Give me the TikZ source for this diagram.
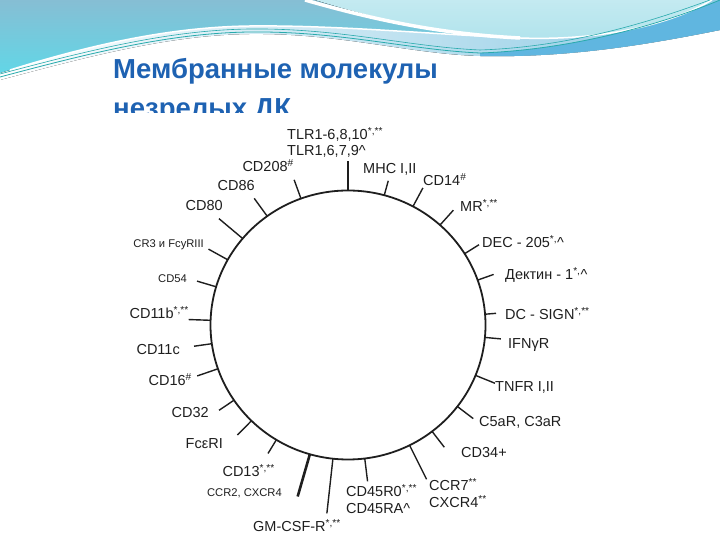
\documentclass[tikz,border=0pt]{standalone}
\usepackage{fontspec}
\setmainfont{Liberation Sans}
\usetikzlibrary{calc}

\definecolor{titleblue}{RGB}{30,98,178}
\definecolor{inkgray}{RGB}{30,30,30}
\definecolor{waveTop}{RGB}{134,190,212}
\definecolor{waveBot}{RGB}{98,214,230}
\definecolor{waveLight}{RGB}{176,227,236}
\definecolor{waveBand}{RGB}{140,202,228}
\definecolor{waveSky}{RGB}{96,182,224}
\definecolor{waveTeal}{RGB}{40,170,172}

\tikzset{
	lbl/.style={font=\fontsize{14.5}{17}\selectfont, text=inkgray, inner sep=0pt},
	lblsmall/.style={font=\fontsize{11.2}{13}\selectfont, text=inkgray, inner sep=0pt},
	titletext/.style={font=\fontsize{27.5}{30}\selectfont\bfseries, text=titleblue, inner sep=0pt},
	tickline/.style={draw=inkgray, line width=1.4pt},
	membrane/.style={draw=inkgray, line width=1.8pt},
}

\begin{document}
\begin{tikzpicture}[x=1pt,y=1pt]
	\useasboundingbox (0,0) rectangle (720,540);

	% Background waves
	\fill[left color=white, right color=waveBand] (0,540) -- (0,460) .. controls (90,484) and (170,505) .. (250,506) .. controls (340,507) and (410,486) .. (480,484) .. controls (570,482) and (650,496) .. (720,510) -- (720,540) -- cycle;
	\fill[waveSky] (480,487) .. controls (570,490) and (660,515) .. (720,540) -- (720,510) .. controls (650,496) and (570,482) .. (480,484) -- cycle;
	\fill[top color=waveTop, bottom color=waveBot] (0,540) -- (315,540) .. controls (380,520) and (440,506) .. (520,502) .. controls (440,505) and (340,515) .. (250,514) .. controls (170,513) and (90,495) .. (10,470) -- (0,467) -- cycle;
	\fill[top color=waveLight!75!white, bottom color=waveLight] (315,540) .. controls (380,520) and (440,506) .. (520,502) .. controls (600,499) and (670,515) .. (712,540) -- cycle;
	\draw[white, line width=3.5pt] (305,540) .. controls (375,520) and (440,506) .. (520,502);
	\draw[white, line width=1.5pt] (10,470) .. controls (90,495) and (170,513) .. (250,514) .. controls (340,515) and (440,505) .. (520,502) .. controls (600,499) and (670,515) .. (712,540);
	\draw[waveTeal, line width=0.8pt] (0,463) .. controls (90,487) and (170,507) .. (250,508) .. controls (340,509) and (410,490) .. (480,487) .. controls (570,490) and (660,515) .. (720,540);
	\draw[waveTeal, line width=0.6pt] (0,466) .. controls (90,490) and (170,510) .. (250,511) .. controls (340,512) and (410,493) .. (480,490) .. controls (570,493) and (650,518) .. (710,540);

	% Title
	\node[titletext, anchor=base west] (title1) at (113,461) {Мембранные молекулы};
	\begin{scope}
		\clip (0,427) rectangle (720,540);
		\node[titletext, anchor=base west] (title2) at (113,422) {незрелых ДК};
	\end{scope}

	% Membrane
	\coordinate (center) at (348,215);
	\draw[membrane] (center) ellipse [x radius=137.5, y radius=134.5];

	% Receptors on the membrane
	\begin{scope}[shift={(center)}]
		\foreach \nm/\ang/\len in {tlr/90/29, mhc/74.7/15, cd14/61.8/21, mr/48/20, dec/32/17,
			dectin/19.5/17, dcsign/4.6/11, ifng/354.7/16, tnfr/338/21, c5ar/322.7/20,
			cd34/307.7/20, ccr7/296.6/38, cd45/277/23, gmcsf/263.7/55, ccr2/253.9/44,
			cd13/238.6/16, fce/225.4/20, cd32/214/18, cd16/199/22, cd11c/188/18,
			cd11b/178/22, cd54/163.5/20, cr3/151/22, cd80/140/31, cd86/126/22, cd208/110/20}{
			\pgfmathsetmacro\rx{137.5+\len}
			\pgfmathsetmacro\ry{134.5+\len}
			\coordinate (\nm-in) at (\ang:137.5 and 134.5);
			\coordinate (\nm-out) at (\ang:\rx\space and \ry);
		}
	\end{scope}
	\foreach \nm in {tlr, mhc, cd14, mr, dec, dectin, dcsign, ifng, tnfr, c5ar, cd34, ccr7,
		cd45, gmcsf, cd13, fce, cd32, cd16, cd11c, cd11b, cd54, cr3, cd80, cd86, cd208}
		\draw[tickline] (\nm-in) -- (\nm-out);
	\draw[tickline, line width=2.6pt] (ccr2-in) -- (ccr2-out); % thick one

	% Labels, right side
	\node[lbl, anchor=base west] (tlrA) at (287,400.5) {TLR1-6,8,10\textsuperscript{*,**}};
	\node[lbl, anchor=base west] (tlrB) at (287,384.3) {TLR1,6,7,9\textasciicircum};
	\node[lbl, anchor=base west] (mhcL) at (363,366) {MHC I,II};
	\node[lbl, anchor=base west] (cd14L) at (423,354) {CD14\textsuperscript{\#}};
	\node[lbl, anchor=base west] (mrL) at (460,328) {MR\textsuperscript{*,**}};
	\node[lbl, anchor=base west] (decL) at (482,292) {DEC - 205\textsuperscript{*,}\textasciicircum};
	\node[lbl, anchor=base west] (dectinL) at (505,260) {Дектин - 1\textsuperscript{*,}\textasciicircum};
	\node[lbl, anchor=base west] (dcsignL) at (505,220) {DC - SIGN\textsuperscript{*,**}};
	\node[lbl, anchor=base west] (ifngL) at (508,191) {IFNγR};
	\node[lbl, anchor=base west] (tnfrL) at (495,148) {TNFR I,II};
	\node[lbl, anchor=base west] (c5arL) at (479,113) {C5aR, C3aR};
	\node[lbl, anchor=base west] (cd34L) at (461,82) {CD34+};
	\node[lbl, anchor=base west] (ccr7L) at (429,49) {CCR7\textsuperscript{**}};
	\node[lbl, anchor=base west] (cxcr4L) at (429,32) {CXCR4\textsuperscript{**}};
	\node[lbl, anchor=base west] (cd45L) at (346,43) {CD45R0\textsuperscript{*,**}};
	\node[lbl, anchor=base west] (cd45raL) at (346,26) {CD45RA\textasciicircum};
	\node[lbl, anchor=base west] (gmcsfL) at (253,8) {GM-CSF-R\textsuperscript{*,**}};

	% Labels, left side
	\node[lblsmall, anchor=base east] (ccr2L) at (282,43) {CCR2, CXCR4};
	\node[lbl, anchor=base east] (cd13L) at (275,63) {CD13\textsuperscript{*,**}};
	\node[lbl, anchor=base east] (fceL) at (223,91) {FcεRI};
	\node[lbl, anchor=base east] (cd32L) at (209,122) {CD32};
	\node[lbl, anchor=base east] (cd16L) at (192,154) {CD16\textsuperscript{\#}};
	\node[lbl, anchor=base east] (cd11cL) at (180,185) {CD11c};
	\node[lbl, anchor=base east] (cd11bL) at (189,221) {CD11b\textsuperscript{*,**}};
	\node[lblsmall, anchor=base east] (cd54L) at (187,257) {CD54};
	\node[lblsmall, anchor=base east] (cr3L) at (204,292) {CR3 и FcyRIII};
	\node[lbl, anchor=base east] (cd80L) at (223,329) {CD80};
	\node[lbl, anchor=base east] (cd86L) at (255,349) {CD86};
	\node[lbl, anchor=base east] (cd208L) at (294,368) {CD208\textsuperscript{\#}};
\end{tikzpicture}
\end{document}
